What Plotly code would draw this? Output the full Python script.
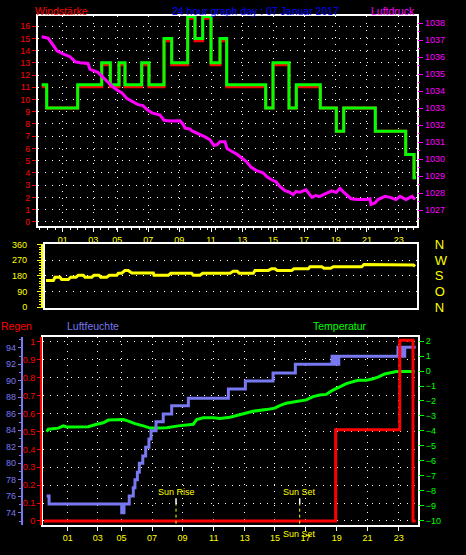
import plotly.graph_objects as go

# ---------------- data ----------------
hour_labels = ['01', '03', '05', '07', '09', '11', '13', '15', '17', '19', '21', '23']
hour_pos = [1.0, 3.0, 4.575, 6.605, 8.634, 10.71, 12.76, 14.77, 16.80, 18.875, 20.92, 23.0]

# wind (step values)
wind_t = [-0.375, -0.048, 1.982, 3.554, 4.117, 4.686, 5.079, 6.173, 6.650, 7.633, 8.137, 9.184, 9.662,
          10.167, 10.710, 11.299, 11.738, 14.291, 14.770, 15.817, 16.295, 17.866, 18.914, 19.398,
          21.467, 23.458, 24.002, 24.13]
wind_gust = [11.2, 9.3, 11.2, 13.0, 11.2, 13.0, 11.2, 13.0, 11.2, 15.0, 13.0, 16.8, 15.0,
             16.8, 13.0, 15.0, 11.2, 9.3, 13.0, 9.3, 11.2, 9.3, 7.4, 9.3,
             7.4, 5.5, 3.6, 3.6]
wind_avg = [11.05, 9.3, 11.05, 12.85, 11.05, 12.85, 11.05, 12.85, 11.05, 14.8, 12.85, 16.65, 14.8,
            16.65, 12.85, 14.8, 11.05, 9.3, 12.85, 9.3, 11.05, 9.3, 7.4, 9.3,
            7.4, 5.5, 3.6, 3.6]

# pressure
press_t = [-0.375, 0.038, 0.365, 0.627, 1.02, 1.478, 1.805, 2.133, 2.657, 2.787, 3.311, 3.639, 3.966,
           4.228, 4.555, 4.883, 5.21, 5.603, 5.93, 6.258, 6.52, 6.847, 7.371, 7.633, 8.026, 8.681,
           8.877, 9.008, 9.336, 9.467, 9.794, 9.99, 10.317, 10.645, 10.906, 11.103, 11.299, 11.626,
           11.757, 12.085, 12.412, 12.805, 13.067, 13.329, 13.656, 14.114, 14.376, 14.704, 14.966,
           15.228, 15.555, 15.883, 16.079, 16.275, 16.537, 16.93, 17.127, 17.323, 17.585, 17.847,
           18.174, 18.633, 18.895, 19.157, 19.353, 19.615, 19.877, 20.335, 20.859, 21.121, 21.186,
           21.448, 21.644, 22.103, 22.43, 22.823, 23.085, 23.478, 23.87, 24.067]
press_hpa = [1037.20, 1037.12, 1036.72, 1036.37, 1036.20, 1036.03, 1035.74, 1035.68, 1035.63, 1035.28,
             1035.11, 1034.82, 1034.48, 1034.30, 1034.07, 1033.90, 1033.56, 1033.38, 1033.21, 1033.15,
             1032.92, 1032.72, 1032.60, 1032.29, 1032.25, 1032.26, 1032.06, 1031.83, 1031.77, 1031.66,
             1031.54, 1031.43, 1031.31, 1031.14, 1030.80, 1030.85, 1031.03, 1031.03, 1030.62, 1030.45,
             1030.29, 1030.01, 1029.82, 1029.53, 1029.34, 1029.20, 1028.96, 1028.77, 1028.67, 1028.38,
             1028.15, 1028.04, 1027.90, 1028.09, 1028.05, 1028.19, 1027.99, 1027.75, 1027.86, 1027.81,
             1027.96, 1028.13, 1028.04, 1028.28, 1028.09, 1027.90, 1027.67, 1027.62, 1027.62, 1027.67,
             1027.33, 1027.42, 1027.62, 1027.81, 1027.75, 1027.62, 1027.81, 1027.62, 1027.81, 1027.62]

# wind direction
dir_t = [-0.093, 0.385, 0.496, 0.823, 0.935, 1.367, 1.524, 1.871, 2.021, 2.349, 2.46, 2.899, 3.049,
         3.377, 3.488, 3.881, 4.051, 4.536, 4.640, 4.863, 5.079, 5.295, 5.518, 6.932, 6.978, 7.914,
         8.071, 9.446, 9.551, 9.99, 10.167, 11.954, 12.170, 12.432, 12.563, 13.48, 13.591, 14.462,
         14.684, 14.9, 15.051, 15.994, 16.144, 17.081, 17.192, 17.958, 18.109, 18.547, 18.717,
         20.577, 20.728, 21.448, 21.598, 23.956, 24.067]
dir_deg = [153, 153, 172, 172, 159, 159, 172, 172, 183, 183, 172, 172, 183, 183, 172, 172, 183, 183,
           195, 195, 211, 211, 197, 197, 183, 183, 195, 195, 183, 183, 195, 195, 206, 206, 195, 195,
           211, 211, 221, 221, 211, 211, 221, 221, 232, 232, 223, 223, 232, 232, 245, 245, 243, 243, 234]

# humidity (step values)
hum_t = [-0.40, -0.24, 4.59, 4.74, 5.09, 5.36, 5.47, 5.63, 5.76, 5.99, 6.18, 6.40, 6.54, 6.87, 7.35,
         7.91, 9.02, 11.68, 12.81, 14.65, 16.13, 18.57, 18.65, 18.72, 18.80, 18.87, 18.95, 19.02,
         22.95, 23.02, 23.10, 23.17, 23.25, 23.32, 23.40, 24.13]
hum_pct = [76.05, 75.07, 74.0, 75.07, 76.05, 77.04, 78.02, 78.93, 80.0, 80.9, 81.96, 82.96, 83.94,
           85.04, 85.99, 86.98, 87.88, 89.0, 89.98, 90.96, 92.02, 92.97, 92.02, 92.97, 92.02, 92.97,
           92.02, 92.97, 94.08, 92.97, 94.08, 92.97, 94.08, 92.97, 94.08, 94.08]

# temperature
temp_t = [-0.396, -0.289, 0.375, 0.708, 0.934, 2.369, 2.928, 3.366, 3.699, 4.144, 4.696, 5.028, 5.473,
          6.025, 6.47, 7.022, 7.58, 8.351, 8.91, 9.348, 9.574, 10.013, 10.678, 11.123, 11.788, 12.539,
          13.316, 14.2, 14.759, 15.091, 15.53, 16.194, 16.859, 17.304, 17.75, 18.188, 18.634, 19.079,
          19.518, 20.295, 20.847, 21.292, 21.625, 22.07, 22.509, 22.841, 24.064]
temp_c = [-4.07, -3.89, -3.82, -3.67, -3.74, -3.72, -3.56, -3.46, -3.28, -3.24, -3.24, -3.35, -3.52,
          -3.67, -3.82, -3.82, -3.79, -3.67, -3.61, -3.56, -3.24, -3.13, -3.13, -3.17, -3.09, -2.91,
          -2.69, -2.58, -2.48, -2.32, -2.15, -2.04, -1.93, -1.71, -1.60, -1.56, -1.27, -1.06, -0.84,
          -0.62, -0.62, -0.51, -0.40, -0.19, -0.07, -0.03, -0.03]

# rain (step values)
rain_t = [-0.58, 18.81, 23.07, 23.95, 24.13]
rain_mm = [0.0, 0.51, 1.01, 0.0, 0.0]

sun_rise_t = 8.20
sun_set_t = 16.42

wind_ticks = list(range(0, 17))
press_ticks = list(range(1027, 1039))
dir_ticks = [0, 90, 180, 270, 360]
compass_labels = ['N', 'O', 'S', 'W', 'N']
rain_ticks = [0, 0.1, 0.2, 0.3, 0.4, 0.5, 0.6, 0.7, 0.8, 0.9, 1.0]
rain_labels = ['0', '0.1', '0.2', '0.3', '0.4', '0.5', '0.6', '0.7', '0.8', '0.9', '1']
hum_ticks = [74, 76, 78, 80, 82, 84, 86, 88, 90, 92, 94]
temp_ticks = [-10, -9, -8, -7, -6, -5, -4, -3, -2, -1, 0, 1, 2]

# ---------------- style ----------------
W, H = 466, 555
RED = '#ff0000'
GREEN = '#00ff00'
MAG = '#ff00ff'
YEL = '#ffff00'
BLUE = '#0000ff'
HUM = '#7878f0'
WHITE = '#ffffff'
FONT = 'Liberation Sans'


def fx(px):
    return px / W


def fy(py):
    return 1 - py / H


TOP_DOM = [fy(225), fy(10)]
MID_DOM = [fy(309.3), fy(243.3)]
BOT_DOM = [fy(531), fy(339.3)]

grid = dict(showgrid=True, gridcolor=WHITE, gridwidth=1, griddash='1px,6px')
box = dict(showline=True, linecolor=WHITE, linewidth=2, mirror=True, zeroline=False)
tf = lambda c: dict(color=c, size=9, family=FONT)

fig = go.Figure()

# top panel
fig.add_trace(go.Scatter(x=wind_t, y=wind_avg, mode='lines', line=dict(color=RED, width=3, shape='hv'),
                         xaxis='x', yaxis='y'))
fig.add_trace(go.Scatter(x=wind_t, y=wind_gust, mode='lines', line=dict(color=GREEN, width=3, shape='hv'),
                         xaxis='x', yaxis='y'))
fig.add_trace(go.Scatter(x=press_t, y=press_hpa, mode='lines', line=dict(color=MAG, width=3),
                         xaxis='x', yaxis='y2'))
# middle panel
fig.add_trace(go.Scatter(x=dir_t, y=dir_deg, mode='lines', line=dict(color=YEL, width=3),
                         xaxis='x2', yaxis='y3'))
fig.add_trace(go.Scatter(x=[None], y=[None], mode='lines', xaxis='x2', yaxis='y4', hoverinfo='skip'))
fig.add_trace(go.Scatter(x=[None], y=[None], mode='lines', xaxis='x2', yaxis='y5', hoverinfo='skip'))
# bottom panel
fig.add_trace(go.Scatter(x=[None], y=[None], mode='lines', xaxis='x3', yaxis='y6', hoverinfo='skip'))
fig.add_trace(go.Scatter(x=temp_t, y=temp_c, mode='lines', line=dict(color=GREEN, width=3),
                         xaxis='x3', yaxis='y7'))
fig.add_trace(go.Scatter(x=hum_t, y=hum_pct, mode='lines', line=dict(color=HUM, width=3, shape='hv'),
                         xaxis='x3', yaxis='y8'))
fig.add_trace(go.Scatter(x=rain_t, y=rain_mm, mode='lines', line=dict(color=RED, width=3, shape='hv'),
                         xaxis='x3', yaxis='y9'))
for st in (sun_rise_t, sun_set_t):
    fig.add_trace(go.Scatter(x=[st, st], y=[-0.015, 0.094], mode='lines',
                             line=dict(color=YEL, width=1, dash='dot'), xaxis='x3', yaxis='y9'))
    fig.add_trace(go.Scatter(x=[st, st], y=[0.094, 0.127], mode='lines',
                             line=dict(color=WHITE, width=1.5), xaxis='x3', yaxis='y9'))

fig.update_layout(
    width=W, height=H, margin=dict(l=0, r=0, t=0, b=0),
    paper_bgcolor='black', plot_bgcolor='black', showlegend=False,
    font=dict(family=FONT, size=9, color=WHITE),
    # ---- top panel
    xaxis=dict(domain=[fx(38), fx(417.3)], anchor='y', range=[-0.617, 24.217],
               tickmode='array', tickvals=hour_pos, ticktext=hour_labels, tickfont=tf(YEL),
               ticks='outside', ticklen=4, tickcolor=WHITE,
               minor=dict(dtick=0.5, tick0=0, ticks='outside', ticklen=2, tickcolor=WHITE, showgrid=False),
               **grid, **box),
    yaxis=dict(domain=TOP_DOM, anchor='x', range=[-0.32, 16.85],
               tickmode='array', tickvals=wind_ticks, tickfont=tf(RED),
               ticks='outside', ticklen=4, tickcolor=RED, **grid, **box),
    yaxis2=dict(domain=TOP_DOM, overlaying='y', anchor='x', side='right', range=[1026.08, 1038.44],
                tickmode='array', tickvals=press_ticks, tickfont=tf(MAG),
                ticks='outside', ticklen=5, tickcolor=MAG, showgrid=False, zeroline=False,
                minor=dict(dtick=0.5, ticks='outside', ticklen=2, tickcolor=MAG, showgrid=False)),
    # ---- middle panel
    xaxis2=dict(domain=[fx(45), fx(416.7)], anchor='y3', range=[-0.159, 24.178],
                showticklabels=False, ticks='', showgrid=False, **box),
    yaxis3=dict(domain=MID_DOM, anchor='x2', range=[-5.6, 365.6],
                tickmode='array', tickvals=dir_ticks, showticklabels=False, ticks='', **grid, **box),
    yaxis4=dict(domain=MID_DOM, overlaying='y3', anchor='free', position=fx(41.7), side='left',
                range=[-5.6, 365.6],
                tickmode='array', tickvals=dir_ticks, tickfont=tf(YEL), ticks='outside', ticklen=4,
                tickcolor=YEL, showline=True, linecolor=YEL, linewidth=1.5, showgrid=False,
                zeroline=False, ticklabelstandoff=8,
                minor=dict(dtick=15, ticks='outside', ticklen=2, tickcolor=YEL, showgrid=False)),
    yaxis5=dict(domain=MID_DOM, overlaying='y3', anchor='x2', side='right', range=[-5.6, 365.6],
                tickmode='array', tickvals=dir_ticks, ticktext=compass_labels,
                tickfont=dict(color=YEL, size=13, family=FONT), ticks='', showgrid=False,
                zeroline=False, ticklabelstandoff=17),
    # ---- bottom panel
    xaxis3=dict(domain=[fx(42.7), fx(418)], anchor='y6', range=[-0.662, 24.283],
                tickmode='array', tickvals=hour_pos, ticktext=hour_labels, tickfont=tf(YEL),
                ticks='outside', ticklen=4, tickcolor=WHITE, **grid, **box),
    yaxis6=dict(domain=BOT_DOM, anchor='x3', range=[-0.02, 1.0256],
                tickmode='array', tickvals=rain_ticks, showticklabels=False, ticks='', **grid, **box),
    yaxis7=dict(domain=BOT_DOM, overlaying='y6', anchor='x3', side='right', range=[-10.28, 2.26],
                tickmode='array', tickvals=temp_ticks, tickfont=tf(GREEN), ticks='outside', ticklen=5,
                tickcolor=GREEN, showgrid=False, zeroline=False),
    yaxis8=dict(domain=BOT_DOM, overlaying='y6', anchor='free', position=fx(21.7), side='left',
                range=[72.58, 95.27],
                tickmode='array', tickvals=hum_ticks, tickfont=tf(HUM), ticks='outside', ticklen=3,
                tickcolor=HUM, showline=True, linecolor=HUM, linewidth=2, showgrid=False, zeroline=False,
                minor=dict(dtick=1, ticks='outside', ticklen=2, tickcolor=HUM, showgrid=False)),
    yaxis9=dict(domain=BOT_DOM, overlaying='y6', anchor='free', position=fx(40.7), side='left',
                range=[-0.02, 1.0256],
                tickmode='array', tickvals=rain_ticks, ticktext=rain_labels, tickfont=tf(RED),
                ticks='outside', ticklen=3, tickcolor=RED, showline=True, linecolor=RED, linewidth=1.5,
                showgrid=False, zeroline=False),
)

tt = lambda c: dict(color=c, size=10.5, family=FONT)
ann = [
    dict(text='Windstärke', x=fx(61.5), y=fy(5.5), font=tt(RED)),
    dict(text='24 hour graph day : 07 Januar 2017', x=fx(255.7), y=fy(5.5), font=tt(BLUE)),
    dict(text='Luftdruck', x=fx(393), y=fy(5.5), font=tt(MAG)),
    dict(text='Regen', x=fx(16), y=fy(327.7), font=tt(RED)),
    dict(text='Luftfeuchte', x=fx(93.3), y=fy(327.7), font=tt(HUM)),
    dict(text='Temperatur', x=fx(339.7), y=fy(327.5), font=tt(GREEN)),
]
for a in ann:
    fig.add_annotation(xref='paper', yref='paper', xanchor='center', yanchor='middle',
                       showarrow=False, **a)
fig.add_annotation(text='Sun Rise', x=sun_rise_t, y=0.16, xref='x3', yref='y9', showarrow=False,
                   xanchor='center', yanchor='middle', font=tf(YEL))
fig.add_annotation(text='Sun Set', x=sun_set_t, y=0.16, xref='x3', yref='y9', showarrow=False,
                   xanchor='center', yanchor='middle', font=tf(YEL))
fig.add_annotation(text='Sun Set', x=sun_set_t, y=fy(540.7), xref='x3', yref='paper', showarrow=False,
                   xanchor='center', yanchor='middle', font=tf(YEL))

fig.write_html('out.html', config={'displayModeBar': False, 'responsive': False},
               post_script="document.body.style.margin='0';document.body.style.background='black';")
